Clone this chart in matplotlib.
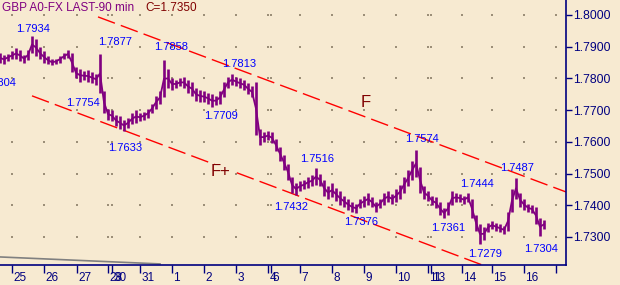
import matplotlib
matplotlib.use("Agg")
import matplotlib.pyplot as plt
import matplotlib.transforms as mtransforms
import numpy as np

plt.rcParams['font.family'] = ['Liberation Sans', 'DejaVu Sans']
plt.rcParams['lines.scale_dashes'] = False

# 90 min bars (index = bar number), high / low
highs = [1.7880, 1.7875, 1.7878, 1.7885, 1.7895, 1.7890, 1.7875, 1.7890, 1.7934, 1.7925,
         1.7900, 1.7885, 1.7870, 1.7860, 1.7862, 1.7872, 1.7880, 1.7890, 1.7880, 1.7835,
         1.7830, 1.7822, 1.7825, 1.7820, 1.7815, 1.7877, 1.7760, 1.7705, 1.7700, 1.7685,
         1.7680, 1.7670, 1.7675, 1.7690, 1.7700, 1.7690, 1.7695, 1.7705, 1.7720, 1.7745,
         1.7760, 1.7858, 1.7830, 1.7800, 1.7795, 1.7800, 1.7805, 1.7795, 1.7790, 1.7770,
         1.7765, 1.7760, 1.7755, 1.7750, 1.7745, 1.7760, 1.7790, 1.7805, 1.7813, 1.7805,
         1.7800, 1.7795, 1.7785, 1.7775, 1.7790, 1.7640, 1.7630, 1.7635, 1.7630, 1.7610,
         1.7585, 1.7560, 1.7530, 1.7490, 1.7470, 1.7475, 1.7480, 1.7490, 1.7495, 1.7516,
         1.7500, 1.7480, 1.7460, 1.7470, 1.7455, 1.7445, 1.7430, 1.7420, 1.7410, 1.7405,
         1.7420, 1.7430, 1.7440, 1.7425, 1.7410, 1.7420, 1.7440, 1.7445, 1.7435, 1.7450,
         1.7465, 1.7490, 1.7510, 1.7540, 1.7574, 1.7520, 1.7460, 1.7445, 1.7430, 1.7425,
         1.7410, 1.7390, 1.7410, 1.7444, 1.7440, 1.7435, 1.7430, 1.7440, 1.7420, 1.7370,
         1.7340, 1.7330, 1.7345, 1.7350, 1.7345, 1.7340, 1.7335, 1.7380, 1.7450, 1.7487,
         1.7440, 1.7420, 1.7405, 1.7400, 1.7395, 1.7360, 1.7355]
lows = [1.7850, 1.7845, 1.7855, 1.7860, 1.7862, 1.7855, 1.7850, 1.7858, 1.7880, 1.7870,
        1.7860, 1.7850, 1.7845, 1.7842, 1.7845, 1.7850, 1.7860, 1.7865, 1.7820, 1.7800,
        1.7790, 1.7795, 1.7790, 1.7785, 1.7780, 1.7754, 1.7690, 1.7670, 1.7665, 1.7650,
        1.7640, 1.7633, 1.7645, 1.7655, 1.7660, 1.7665, 1.7670, 1.7675, 1.7690, 1.7705,
        1.7720, 1.7740, 1.7770, 1.7765, 1.7770, 1.7775, 1.7770, 1.7755, 1.7745, 1.7730,
        1.7725, 1.7725, 1.7720, 1.7709, 1.7715, 1.7720, 1.7740, 1.7770, 1.7780, 1.7775,
        1.7770, 1.7765, 1.7750, 1.7740, 1.7620, 1.7590, 1.7600, 1.7605, 1.7595, 1.7570,
        1.7540, 1.7510, 1.7480, 1.7440, 1.7432, 1.7445, 1.7450, 1.7455, 1.7460, 1.7465,
        1.7460, 1.7430, 1.7420, 1.7425, 1.7415, 1.7400, 1.7395, 1.7385, 1.7380, 1.7376,
        1.7390, 1.7395, 1.7400, 1.7395, 1.7380, 1.7390, 1.7400, 1.7410, 1.7405, 1.7410,
        1.7420, 1.7440, 1.7460, 1.7480, 1.7490, 1.7440, 1.7420, 1.7415, 1.7400, 1.7390,
        1.7370, 1.7361, 1.7370, 1.7400, 1.7410, 1.7410, 1.7405, 1.7410, 1.7360, 1.7320,
        1.7279, 1.7290, 1.7315, 1.7325, 1.7320, 1.7315, 1.7310, 1.7320, 1.7380, 1.7420,
        1.7395, 1.7385, 1.7380, 1.7375, 1.7340, 1.7304, 1.7325]

# day separators (bar index) and their labels
day_ticks = [3, 11, 19.25, 27, 28, 35, 43, 51, 59, 67, 67.75, 75, 83, 91, 99,
             107, 107.75, 115.5, 123, 131, 139]
day_labels = ['25', '26', '27', '28', '30', '31', '1', '2', '3', '4', '6', '7', '8',
              '9', '10', '11', '13', '14', '15', '16', '']
price_ticks = [1.73, 1.74, 1.75, 1.76, 1.77, 1.78, 1.79, 1.80]

# channel lines (bar index, price)
upper_x = [24.5, 141.5]
upper_y = [1.7994, 1.7442]
lower_x = [8, 120.5]
lower_y = [1.7745, 1.7212]
gray_x = [0, 40]
gray_y = [1.7237, 1.7215]

# pivot labels
pivot_text = ['1.7934', '1.7804', '1.7877', '1.7858', '1.7813', '1.7754', '1.7633',
              '1.7709', '1.7516', '1.7432', '1.7376', '1.7574', '1.7487', '1.7444',
              '1.7361', '1.7279', '1.7304']
pivot_x = [8.25, -0.25, 28.75, 42.75, 59.75, 20.75, 31.25, 55.25, 79.25, 72.75,
           90.25, 105.5, 129.25, 119.25, 112, 121.25, 135.25]
pivot_y = [1.79558, 1.77856, 1.79149, 1.78991, 1.78455, 1.77225, 1.75806, 1.76815,
           1.75459, 1.73945, 1.73472, 1.76090, 1.75175, 1.74670, 1.73283, 1.72463,
           1.72621]

bg = '#F7EAD1'
navy = '#000080'
purple = '#800080'

fig = plt.figure(figsize=(6.2, 2.85), dpi=100, facecolor=bg)
ax = fig.add_axes([0, 20 / 285, 566 / 620, 265 / 285], facecolor=bg)

# dotted grid at tick intersections
gx, gy = np.meshgrid(day_ticks, price_ticks)
ax.scatter(gx.ravel(), gy.ravel(), s=0.6, marker='s', color='#9c8f78', lw=0, zorder=1)

bars_x = np.arange(len(highs))
hi = np.array(highs)
lo = np.array(lows)
ax.vlines(bars_x, lo, hi, color=purple, lw=1.9, zorder=3)
ax.plot(bars_x, (hi + lo) / 2, color=purple, lw=1.3, zorder=3)

ax.plot(upper_x, upper_y, color='#FF0000', lw=1, dashes=(13, 4.5), zorder=2)
ax.plot(lower_x, lower_y, color='#FF0000', lw=1, dashes=(13, 4.5), zorder=2)
ax.plot(gray_x, gray_y, color='#808080', lw=1.2, zorder=2)

for t, x, y in zip(pivot_text, pivot_x, pivot_y):
    ax.text(x, y, t, color='#0000FF', fontsize=8, ha='center', va='center',
            clip_on=False, zorder=4)

ax.text(91.5, 1.77256, 'F', color='#800000', fontsize=12, ha='center', va='center')
ax.text(55.25, 1.75049, 'F+', color='#800000', fontsize=12, ha='center', va='center',
        bbox=dict(facecolor=bg, edgecolor='none', pad=0.5), zorder=2.5)

ax.set_xlim(0, 141.5)
ax.set_ylim(1.72116, 1.80473)

for side in ['top', 'left']:
    ax.spines[side].set_visible(False)
for side in ['right', 'bottom']:
    ax.spines[side].set_color(navy)
    ax.spines[side].set_linewidth(1.2)

ax.yaxis.tick_right()
ax.set_yticks(price_ticks)
ax.set_yticklabels(['%.4f' % p for p in price_ticks])
ax.tick_params(axis='y', direction='out', length=4, width=1, color=navy,
               labelcolor=navy, labelsize=8.7, pad=1)

ax.set_xticks(day_ticks)
ax.set_xticklabels(day_labels)
ax.tick_params(axis='x', direction='out', length=6, width=1, color=navy,
               labelcolor=navy, labelsize=8.5, pad=-1)
offset = mtransforms.ScaledTranslation(1.5 / 100, 0, fig.dpi_scale_trans)
for lab in ax.get_xticklabels():
    lab.set_horizontalalignment('left')
    lab.set_transform(lab.get_transform() + offset)

fig.text(2 / 620, 1 - 8 / 285, 'GBP A0-FX LAST-90 min', color=purple,
         fontsize=8.5, ha='left', va='center')
fig.text(145 / 620, 1 - 8 / 285, 'C=1.7350', color='#800000',
         fontsize=8.5, ha='left', va='center')

fig.savefig('out.png', dpi=100, facecolor=bg)
